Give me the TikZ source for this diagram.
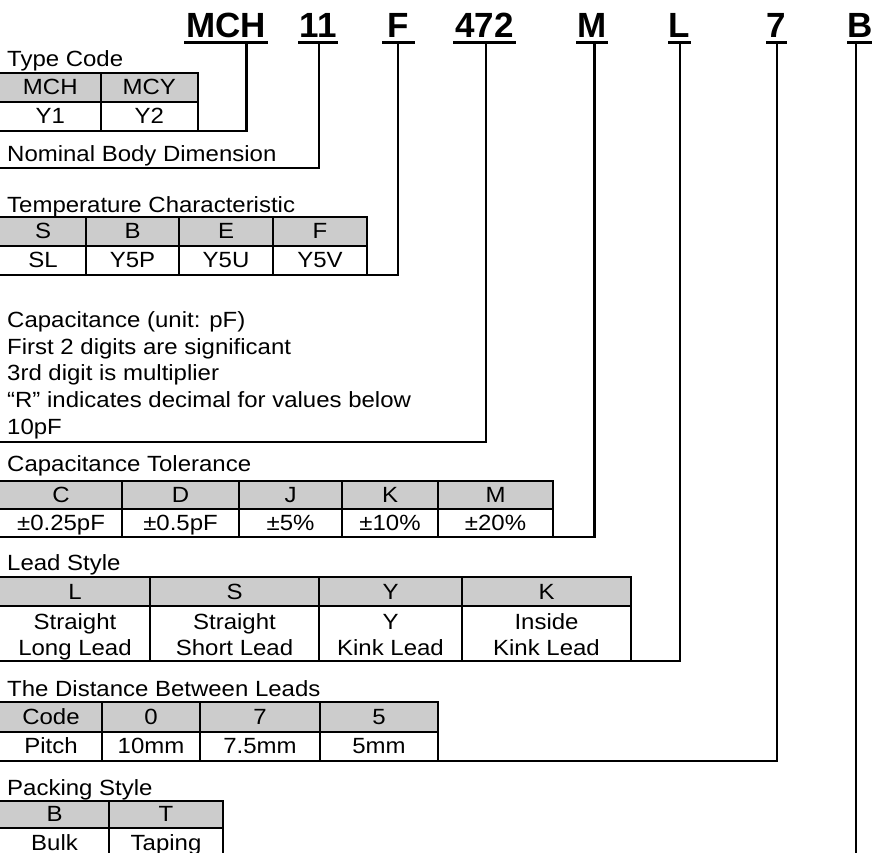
\documentclass[tikz,border=0pt]{standalone}
\usepackage{fontspec}
\setmainfont{Liberation Sans}[FakeStretch=1.09]
\newfontfamily\titlefont{Liberation Sans}
\definecolor{hdr}{HTML}{CCCCCC}
\newcommand{\drawtab}[4]{%
  \fill[hdr] (-3,#1) rectangle (#4,#2);
  \draw[ln] (-3,#1) rectangle (#4,#3);
  \draw[ln] (-3,#2) -- (#4,#2);}
\begin{document}
\begin{tikzpicture}[x=1pt,y=-1pt,
  ln/.style={line width=2.2pt, line join=miter},
  ul/.style={line width=3.4pt},
  ttl/.style={inner sep=0pt, anchor=base, font=\titlefont\bfseries\fontsize{35}{40}\selectfont},
  txt/.style={inner sep=0pt, anchor=base, font=\fontsize{22}{26}\selectfont},
  lbl/.style={txt, anchor=base west}]
\useasboundingbox (0,0) rectangle (872,853);

% ---------- title ----------
\node[ttl] (tMCH) at (226,38) {MCH};
\node[ttl] (t11)  at (318,38) {11};
\node[ttl] (tF)   at (398.5,38) {F};
\node[ttl] (t472) at (484.5,38) {472};
\node[ttl] (tM)   at (592,38) {M};
\node[ttl] (tL)   at (679.5,38) {L};
\node[ttl] (t7)   at (776.5,38) {7};
\node[ttl] (tB)   at (860,38) {B};
\draw[ul] (184,42.5) -- (268,42.5);
\draw[ul] (298,42.5) -- (338,42.5);
\draw[ul] (382,42.5) -- (415,42.5);
\draw[ul] (453,42.5) -- (516,42.5);
\draw[ul] (576,42.5) -- (608,42.5);
\draw[ul] (668,42.5) -- (691,42.5);
\draw[ul] (766,42.5) -- (787,42.5);
\draw[ul] (847,42.5) -- (874,42.5);

% connector start points
\coordinate (cMCH) at (246.5,42.5);
\coordinate (c11)  at (319,42.5);
\coordinate (cF)   at (398,42.5);
\coordinate (c472) at (486,42.5);
\coordinate (cM)   at (594.5,42.5);
\coordinate (cL)   at (680,42.5);
\coordinate (c7)   at (777,42.5);
\coordinate (cB)   at (856,42.5);

% ---------- Type code ----------
\node[lbl] (lType) at (7,67) {Type Code};
\drawtab{72.7}{101.7}{130.7}{198}
\draw[ln] (100.7,72.7) -- (100.7,130.7);
\coordinate (eType) at (198,130.7);
\node[txt] (a1) at (50.3,94.6) {MCH};
\node[txt] (a2) at (149.3,94.6) {MCY};
\node[txt] (a3) at (50.3,123.6) {Y1};
\node[txt] (a4) at (149.3,123.6) {Y2};
\draw[ln] (cMCH) |- (eType);

% ---------- Nominal body ----------
\node[lbl] (lNom) at (7,162) {Nominal Body Dimension};
\coordinate (eNom) at (-3,168);
\draw[ln] (c11) |- (eNom);

% ---------- Temperature ----------
\node[lbl] (lTemp) at (7,212) {Temperature Characteristic};
\drawtab{216.7}{246}{275}{367}
\foreach \x in {86,179,273} \draw[ln] (\x,216.7) -- (\x,275);
\coordinate (eTemp) at (367,275);
\node[txt] (b1) at (43,238.8) {S};
\node[txt] (b2) at (132.5,238.8) {B};
\node[txt] (b3) at (226,238.8) {E};
\node[txt] (b4) at (320,238.8) {F};
\node[txt] (b5) at (43,267.9) {SL};
\node[txt] (b6) at (132.5,267.9) {Y5P};
\node[txt] (b7) at (226,267.9) {Y5U};
\node[txt] (b8) at (320,267.9) {Y5V};
\draw[ln] (cF) |- (eTemp);

% ---------- Capacitance ----------
\node[lbl] (lCap1) at (7,327.4) {Capacitance (unit: pF)};
\node[lbl] (lCap2) at (7,354.1) {First 2 digits are significant};
\node[lbl] (lCap3) at (7,380.8) {3rd digit is multiplier};
\node[lbl] (lCap4) at (7,407.5) {“R” indicates decimal for values below};
\node[lbl] (lCap5) at (7,434.2) {10pF};
\coordinate (eCap) at (-3,442);
\draw[ln] (c472) |- (eCap);

% ---------- Tolerance ----------
\node[lbl] (lTol) at (7,471.7) {Capacitance Tolerance};
\drawtab{480.7}{509}{537}{553}
\foreach \x in {122,239,342,438} \draw[ln] (\x,480.7) -- (\x,537);
\coordinate (eTol) at (553,537);
\node[txt] (c1) at (61,502.2) {C};
\node[txt] (c2) at (180.5,502.2) {D};
\node[txt] (c3) at (290.5,502.2) {J};
\node[txt] (c4) at (390,502.2) {K};
\node[txt] (c5) at (495.5,502.2) {M};
\node[txt] (d1) at (61,530.4) {±0.25pF};
\node[txt] (d2) at (180.5,530.4) {±0.5pF};
\node[txt] (d3) at (290.5,530.4) {±5\%};
\node[txt] (d4) at (390,530.4) {±10\%};
\node[txt] (d5) at (495.5,530.4) {±20\%};
\draw[ln] (cM) |- (eTol);

% ---------- Lead style ----------
\node[lbl] (lLead) at (7,570) {Lead Style};
\drawtab{577}{606}{661}{631}
\foreach \x in {150,319,462} \draw[ln] (\x,577) -- (\x,661);
\coordinate (eLead) at (631,661);
\node[txt] (e1) at (75,599) {L};
\node[txt] (e2) at (234.5,599) {S};
\node[txt] (e3) at (390.5,599) {Y};
\node[txt] (e4) at (546.5,599) {K};
\node[txt] (f1) at (75,629.3) {Straight};
\node[txt] (f2) at (75,655) {Long Lead};
\node[txt] (f3) at (234.5,629.3) {Straight};
\node[txt] (f4) at (234.5,655) {Short Lead};
\node[txt] (f5) at (390.5,629.3) {Y};
\node[txt] (f6) at (390.5,655) {Kink Lead};
\node[txt] (f7) at (546.5,629.3) {Inside};
\node[txt] (f8) at (546.5,655) {Kink Lead};
\draw[ln] (cL) |- (eLead);

% ---------- Distance ----------
\node[lbl] (lDist) at (7,696) {The Distance Between Leads};
\drawtab{701.7}{732}{761}{438}
\foreach \x in {102,200,320} \draw[ln] (\x,701.7) -- (\x,761);
\coordinate (eDist) at (438,761);
\node[txt] (g1) at (51,724.2) {Code};
\node[txt] (g2) at (151,724.2) {0};
\node[txt] (g3) at (260,724.2) {7};
\node[txt] (g4) at (379,724.2) {5};
\node[txt] (h1) at (51,753.9) {Pitch};
\node[txt] (h2) at (151,753.9) {10mm};
\node[txt] (h3) at (260,753.9) {7.5mm};
\node[txt] (h4) at (379,753.9) {5mm};
\draw[ln] (c7) |- (eDist);

% ---------- Packing ----------
\node[lbl] (lPack) at (7,795) {Packing Style};
\drawtab{800.7}{828}{857}{223}
\draw[ln] (109,800.7) -- (109,857);
\node[txt] (k1) at (54.5,821.8) {B};
\node[txt] (k2) at (166,821.8) {T};
\node[txt] (k3) at (54.5,850.2) {Bulk};
\node[txt] (k4) at (166,850.2) {Taping};
\coordinate (eB) at (856,856);
\draw[ln] (cB) -- (eB);
\end{tikzpicture}
\end{document}
